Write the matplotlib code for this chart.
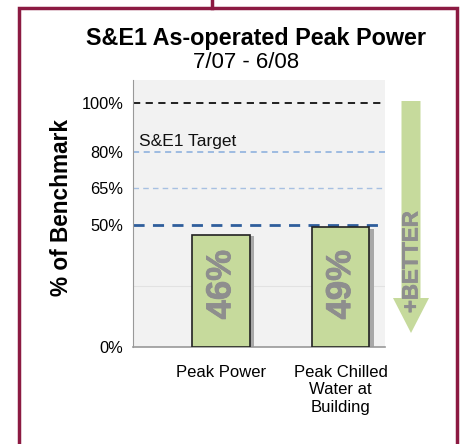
#!/usr/bin/env python3
"""
S&E1 as-operated peak power vs benchmark
"""

import matplotlib.pyplot as plt
import matplotlib.patheffects as pe
from matplotlib.patches import Rectangle, FancyArrow
from matplotlib.lines import Line2D

categories = ["Peak Power", "Peak Chilled\nWater at\nBuilding"]
values = [46, 49]
tick_vals = [0, 50, 65, 80, 100]
tick_labels = ["0%", "50%", "65%", "80%", "100%"]
target_label = "S&E1 Target"

bar_green = "#c6da9c"
label_grey = "#8e8e8e"
maroon = "#8c1a42"
plt.rcParams["font.family"] = ["Liberation Sans", "DejaVu Sans"]
thick = [pe.withStroke(linewidth=0.6, foreground=label_grey)]

fig = plt.figure(figsize=(4.61, 4.44), dpi=100)
ax = fig.add_axes([0.2885, 0.2185, 0.5466, 0.6014])
ax.set_facecolor("#f2f2f2")

x = list(range(len(categories)))
# faint shadow behind bars
ax.bar([i + 0.035 for i in x], [v - 0.6 for v in values], 0.48, color="#a8a8a8",
       zorder=2)
ax.bar(x, values, 0.48, color=bar_green, edgecolor="#222222", linewidth=1.2,
       zorder=3)
for i, v in zip(x, values):
    ax.text(i, 25.5, f"{v}%", rotation=90, ha="center", va="center",
            fontsize=25, fontweight="bold", color=label_grey, zorder=4,
            path_effects=thick)

ax.axhline(25, color="#e2e2e2", lw=0.8, zorder=1)
ax.axhline(100, color="#111111", lw=1.3, ls=(0, (4, 3)), zorder=1)
ax.axhline(80, color="#86acdc", lw=1.1, ls=(0, (4, 3)), zorder=1)
ax.axhline(65, color="#a7c0e2", lw=1.0, ls=(0, (4, 3)), zorder=1)
ax.axhline(50, color="#2f5e9c", lw=2.0, ls=(0, (4, 3)), zorder=1)
ax.text(-0.68, 81.3, target_label, fontsize=12.5, ha="left", va="bottom",
        color="#111111")

ax.set_xlim(-0.733, 1.37)
ax.set_ylim(0, 109.4)
ax.set_yticks(tick_vals)
ax.set_yticklabels(tick_labels, fontsize=11.8)
ax.set_xticks(x)
ax.set_xticklabels(categories, fontsize=12)
ax.tick_params(length=0, pad=7)
ax.tick_params(axis="x", pad=13)
for s in ["top", "right"]:
    ax.spines[s].set_visible(False)
ax.spines["left"].set_color("#999999")
ax.spines["bottom"].set_color("#999999")
ax.spines["bottom"].set_linewidth(1.2)

fig.text(61 / 461, 1 - 208 / 444, "% of Benchmark", rotation=90, ha="center",
         va="center", fontsize=16.3, fontweight="bold")
fig.text(256 / 461, 1 - 38 / 444, "S&E1 As-operated Peak Power", ha="center",
         va="center", fontsize=16.8, fontweight="bold")
fig.text(246 / 461, 1 - 62 / 444, "7/07 - 6/08", ha="center", va="center",
         fontsize=16)

# "better" arrow on the right
W, H = 461, 444
arr = FancyArrow(411 / W, 1 - 101 / H, 0, -(333 - 101) / H, width=19 / W,
                 head_width=36 / W, head_length=35 / H,
                 length_includes_head=True, transform=fig.transFigure,
                 color=bar_green, lw=0)
fig.patches.append(arr)
fig.text(412 / W, 1 - 262 / H, "+BETTER", rotation=90, ha="center",
         va="center", fontsize=16, fontweight="bold", color=label_grey,
         path_effects=[pe.withStroke(linewidth=0.5, foreground=label_grey)])

# maroon frame
fig.patches.append(Rectangle((19 / W, -0.05), (457 - 19) / W, 1 - 8 / H + 0.05,
                             transform=fig.transFigure, fill=False,
                             edgecolor=maroon, lw=2.5))
fig.lines.append(Line2D([212 / W, 212 / W], [1 - 8 / H, 1.0],
                        transform=fig.transFigure, color=maroon, lw=2.5))

fig.savefig("out.png", dpi=100)
